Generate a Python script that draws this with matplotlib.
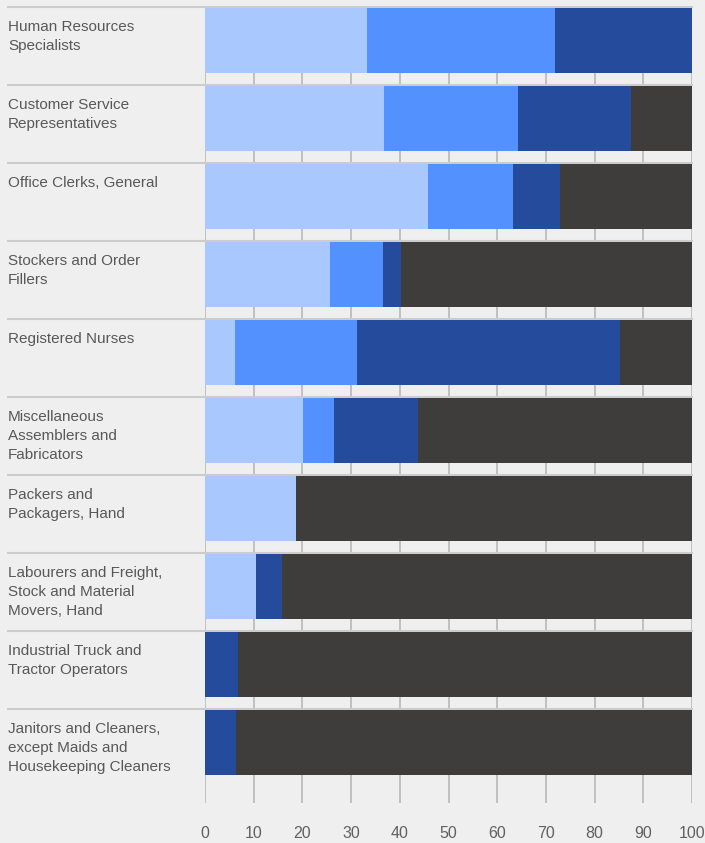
import numpy as np
import matplotlib
matplotlib.use("Agg")
import matplotlib.pyplot as plt
import matplotlib.transforms as mtransforms

categories = [
    "Human Resources\nSpecialists",
    "Customer Service\nRepresentatives",
    "Office Clerks, General",
    "Stockers and Order\nFillers",
    "Registered Nurses",
    "Miscellaneous\nAssemblers and\nFabricators",
    "Packers and\nPackagers, Hand",
    "Labourers and Freight,\nStock and Material\nMovers, Hand",
    "Industrial Truck and\nTractor Operators",
    "Janitors and Cleaners,\nexcept Maids and\nHousekeeping Cleaners",
]
series1 = [33.3, 36.8, 45.8, 25.7, 6.2, 20.1, 18.7, 10.5, 0.0, 0.0]
series2 = [38.6, 27.5, 17.5, 10.9, 25.0, 6.4, 0.0, 0.0, 0.0, 0.0]
series3 = [28.1, 23.2, 9.6, 3.7, 54.1, 17.3, 0.0, 5.3, 6.8, 6.4]
series4 = [0.0, 12.5, 27.1, 59.7, 14.7, 56.2, 81.3, 84.2, 93.2, 93.6]
xticks = [0, 10, 20, 30, 40, 50, 60, 70, 80, 90, 100]

colors = ["#a9c8fe", "#5291ff", "#254b9c", "#3e3d3b"]
bg = "#efefef"

W, H = 705, 843
fig = plt.figure(figsize=(W / 100, H / 100), dpi=100, facecolor=bg)
ax = fig.add_axes([205 / W, (H - 803) / H, 487 / W, 796 / H], facecolor=bg)

y = np.arange(len(categories))
bh = 0.833
left = np.zeros(len(categories))
for vals, c in zip([series1, series2, series3, series4], colors):
    vals = np.array(vals)
    ax.barh(y, vals, left=left, height=bh, color=c, zorder=3, linewidth=0)
    left = left + vals

ax.set_xlim(0, 100)
ax.set_ylim(9.776, -0.4295)

ax.set_xticks(xticks)
ax.set_xticklabels([str(t) for t in xticks])
ax.set_yticks([])
ax.tick_params(axis="x", length=0, pad=16.5, labelsize=11.5, labelcolor="#606060")
for lab in ax.get_xticklabels():
    lab.set_fontfamily("Liberation Sans")
    lab.set_x(lab.get_position()[0])
ax.grid(axis="x", color="#bdbdbd", linewidth=1.3, zorder=0)
ax.set_axisbelow(True)
for s in ax.spines.values():
    s.set_visible(False)

# row separators and labels
trans = mtransforms.blended_transform_factory(fig.transFigure, ax.transData)
for i, cat in enumerate(categories):
    sep = i - 0.43
    ax.plot([8 / W, 692 / W], [sep, sep], transform=trans, color="#cccccc",
            linewidth=1.5, clip_on=False, zorder=1)
    ax.text(8 / W, sep + 0.17, cat, transform=trans, ha="left", va="top",
            fontsize=11, color="#585858", family="Liberation Sans",
            linespacing=1.43)

fig.savefig("out.png", dpi=100, facecolor=bg)
